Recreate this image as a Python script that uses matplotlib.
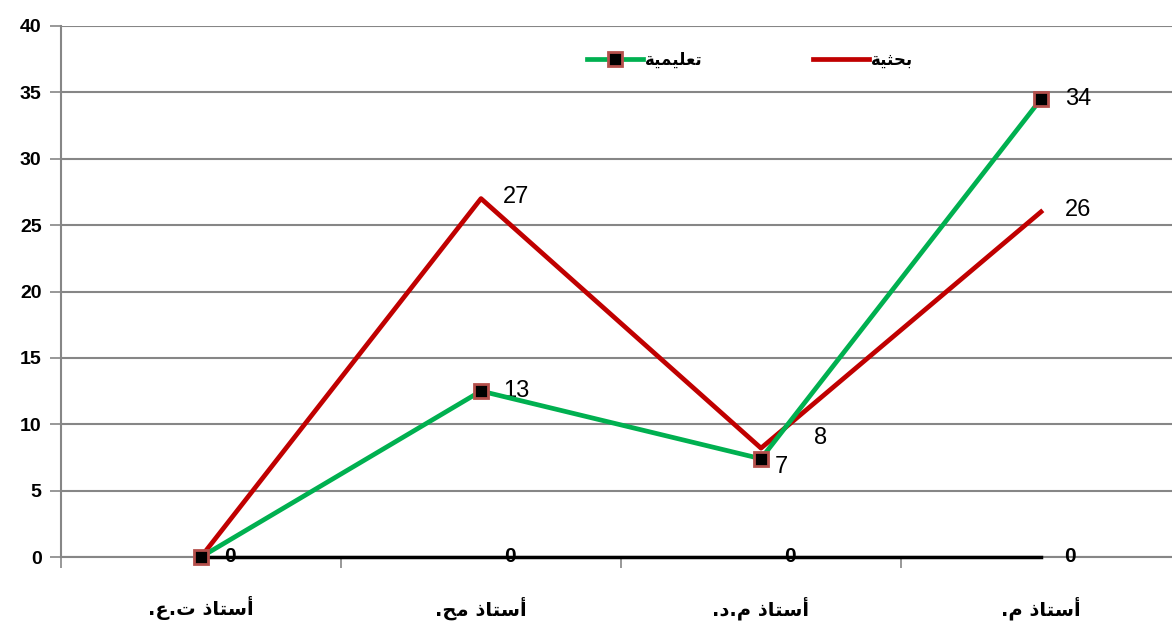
import matplotlib
matplotlib.use('Agg')
import matplotlib.pyplot as plt
from matplotlib.lines import Line2D

# chart data
categories = ['أستاذ ت.ع.', 'أستاذ مح.', 'أستاذ م.د.', 'أستاذ م.']
teaching = [0, 12.5, 7.4, 34.5]          # تعليمية
research = [0, 27.0, 8.2, 26.0]          # بحثية
other = [0, 0, 0, 0]
teaching_lbl = ['', '13', '7', '34']
research_lbl = ['', '27', '8', '26']
other_lbl = ['0', '0', '0', '0']
series_names = ['تعليمية', 'بحثية']

# --- minimal arabic shaping (matplotlib has no bidi / joining) ---
dual = {'ب': 0xFE8F, 'ت': 0xFE95, 'ث': 0xFE99, 'ح': 0xFEA1, 'س': 0xFEB1,
        'ع': 0xFEC9, 'ل': 0xFEDD, 'م': 0xFEE1, 'ي': 0xFEF1}
right = {'أ': 0xFE83, 'ا': 0xFE8D, 'ة': 0xFE93, 'د': 0xFEA9, 'ذ': 0xFEAB}


def shape(txt):
    out = []
    for i, ch in enumerate(txt):
        if ch not in dual and ch not in right:
            out.append(ch)
            continue
        prev = txt[i - 1] if i > 0 else ''
        nxt = txt[i + 1] if i + 1 < len(txt) else ''
        join_prev = prev in dual
        join_next = ch in dual and (nxt in dual or nxt in right)
        base = dual.get(ch, right.get(ch))
        if join_prev and join_next:
            code = base + 3
        elif join_next:
            code = base + 2
        elif join_prev:
            code = base + 1
        else:
            code = base
        out.append(chr(code))
    return ''.join(out)[::-1]


ar_font = ['DejaVu Sans']
num_font = ['Liberation Sans Narrow', 'Liberation Sans', 'DejaVu Sans']

fig = plt.figure(figsize=(11.72, 6.28), dpi=100)
ax = fig.add_axes([61 / 1172, 1 - 557 / 628, 1 - 61 / 1172, (557 - 26) / 628])

x = list(range(len(categories)))
grid_c = '#868686'

ax.set_yticks(range(0, 41, 5))
ax.set_xticks([-0.5, 0.5, 1.5, 2.5, 3.5])
ax.set_xticklabels([])
ax.set_ylim(0, 40)
ax.set_xlim(-0.5, 3 + 131 / 280)
ax.yaxis.grid(True, color=grid_c, lw=1.5)
ax.set_axisbelow(True)
ax.tick_params(axis='x', length=8, width=1.2, color=grid_c, direction='out')
ax.tick_params(axis='y', length=8, width=1.2, color=grid_c, direction='out',
               labelsize=14, pad=6)
for lab in ax.get_yticklabels():
    lab.set_fontfamily(['Liberation Sans', 'DejaVu Sans'])
    lab.set_fontweight('bold')
for s in ['top', 'right']:
    ax.spines[s].set_visible(False)
ax.spines['left'].set_color(grid_c)
ax.spines['left'].set_linewidth(1.5)
ax.spines['bottom'].set_color(grid_c)
ax.spines['bottom'].set_linewidth(1.5)

red_c = '#C00000'
green_c = '#00B050'
mk = dict(marker='s', markersize=10, markerfacecolor='black',
          markeredgecolor='#B5504C', markeredgewidth=2)

ax.plot(x, research, color=red_c, lw=3.4, zorder=3, clip_on=False)
ax.plot(x, other, color='black', lw=2.5, zorder=4, clip_on=False)
ax.plot(x, teaching, color=green_c, lw=3.4, zorder=5, clip_on=False, **mk)

# data labels
t_off = [(0, 0), (16, 0), (10, -6), (17, 0)]
r_off = [(0, 0), (16, 1), (38, 7), (17, 1)]
for xi, v, l, o in zip(x, teaching, teaching_lbl, t_off):
    if l:
        ax.annotate(l, (xi, v), xytext=o, textcoords='offset points',
                    ha='left', va='center', fontsize=17, family=num_font)
for xi, v, l, o in zip(x, research, research_lbl, r_off):
    if l:
        ax.annotate(l, (xi, v), xytext=o, textcoords='offset points',
                    ha='left', va='center', fontsize=17, family=num_font)
for xi, v, l in zip(x, other, other_lbl):
    ax.annotate(l, (xi, v), xytext=(17, 0), textcoords='offset points',
                ha='left', va='center', fontsize=15, fontweight='bold',
                family=['Liberation Sans', 'DejaVu Sans'], zorder=6)

# category labels
for xi, c in zip(x, categories):
    ax.annotate(shape(c), (xi, 0), xytext=(0, -37), textcoords='offset points',
                ha='center', va='center', fontsize=14, fontweight='bold',
                family=ar_font, annotation_clip=False)

# legend
handles = [Line2D([], [], color=green_c, lw=3.4, **mk),
           Line2D([], [], color=red_c, lw=3.4)]
fig.legend(handles, [shape(n) for n in series_names],
           loc='center', bbox_to_anchor=(750 / 1172, 1 - 60 / 628), ncol=2,
           frameon=False, handlelength=3.4, columnspacing=6.6, handletextpad=0.1,
           prop={'family': ar_font, 'weight': 'bold', 'size': 12})

fig.savefig('out.png', dpi=100)
